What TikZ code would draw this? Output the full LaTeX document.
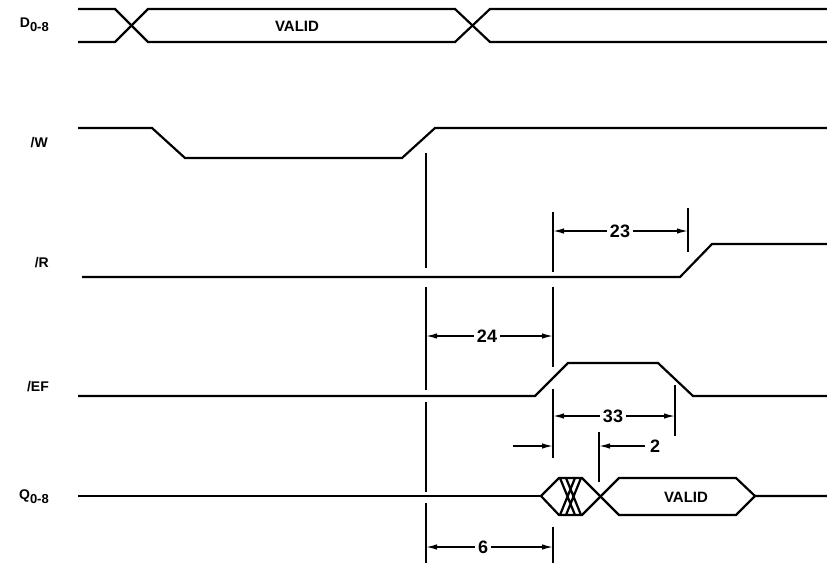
\documentclass[tikz,border=0pt]{standalone}
\usepackage{fontspec}
\setmainfont{Liberation Sans}
\usetikzlibrary{arrows.meta}
\begin{document}
\begin{tikzpicture}[x=1pt,y=-1pt,
  sig/.style={line width=2.2pt},
  guide/.style={line width=1.8pt},
  dim/.style={line width=1.4pt,-{Latex[length=11pt,width=5.5pt]}},
  lab/.style={font=\bfseries\fontsize{14}{16}\selectfont,anchor=east,inner sep=0pt},
  val/.style={font=\bfseries\fontsize{15}{17}\selectfont},
  num/.style={font=\bfseries\fontsize{18}{20}\selectfont,inner sep=3pt}]
\useasboundingbox (0,0) rectangle (827,563);
% signal labels
\node[lab] (lD) at (49,25) {D\raisebox{-4pt}{\fontsize{13}{14}\selectfont 0-8}};
\node[lab] (lW) at (48,143) {/W};
\node[lab] (lR) at (49,263) {/R};
\node[lab] (lEF) at (49,387) {/EF};
\node[lab] (lQ) at (49,497) {Q\raisebox{-4pt}{\fontsize{13}{14}\selectfont 0-8}};
% D0-8
\draw[sig] (78,9) -- (115,9) -- (148,42) -- (455,42) -- (490,9) -- (827,9);
\draw[sig] (78,42) -- (115,42) -- (148,9) -- (455,9) -- (490,42) -- (827,42);
\node[val] (vD) at (297,26) {VALID};
% /W
\draw[sig] (78,128) -- (152,128) -- (185,158) -- (402,158) -- (435,128) -- (827,128);
% /R
\draw[sig] (82,277) -- (680,277) -- (712,244) -- (827,244);
% /EF
\draw[sig] (78,396) -- (535,396) -- (568,363) -- (658,363) -- (693,396) -- (827,396);
% Q0-8
\draw[sig] (78,496) -- (541,496);
\draw[sig] (541,496) -- (559,478) -- (582,478) -- (619,515) -- (736,515) -- (755,496) -- (827,496);
\draw[sig] (541,496) -- (559,515) -- (582,515) -- (619,478) -- (736,478) -- (755,496);
\draw[sig] (560,478) -- (575,515) (575,478) -- (560,515) (566,478) -- (581,515) (581,478) -- (566,515);
\node[val] (vQ) at (686,497) {VALID};
% guide lines
\draw[guide] (426,153) -- (426,268) (426,287) -- (426,390) (426,402) -- (426,492) (426,503) -- (426,563);
\draw[guide] (553,212) -- (553,272) (553,287) -- (553,367) (553,389) -- (553,458) (553,527) -- (553,563);
\draw[guide] (688,208) -- (688,252);
\draw[guide] (675,385) -- (675,436);
\draw[guide] (599,432) -- (599,482);
% dimension 23
\node[num] (n23) at (620,231) {23};
\coordinate (a23l) at (553,231);
\coordinate (a23r) at (688,231);
\draw[dim] (n23) -- (a23l);
\draw[dim] (n23) -- (a23r);
% dimension 24
\node[num] (n24) at (487,336) {24};
\coordinate (a24l) at (426,336);
\coordinate (a24r) at (553,336);
\draw[dim] (n24) -- (a24l);
\draw[dim] (n24) -- (a24r);
% dimension 33
\node[num] (n33) at (613,416) {33};
\coordinate (a33l) at (553,416);
\coordinate (a33r) at (675,416);
\draw[dim] (n33) -- (a33l);
\draw[dim] (n33) -- (a33r);
% arrow into 553 and dimension 2
\coordinate (s1) at (513,446);
\coordinate (e1) at (553,446);
\draw[dim] (s1) -- (e1);
\node[num,inner sep=5pt] (n2) at (655,446) {2};
\coordinate (a2) at (599,446);
\draw[dim] (n2) -- (a2);
% dimension 6
\node[num] (n6) at (483,547) {6};
\coordinate (a6l) at (426,547);
\coordinate (a6r) at (553,547);
\draw[dim] (n6) -- (a6l);
\draw[dim] (n6) -- (a6r);
\end{tikzpicture}
\end{document}
